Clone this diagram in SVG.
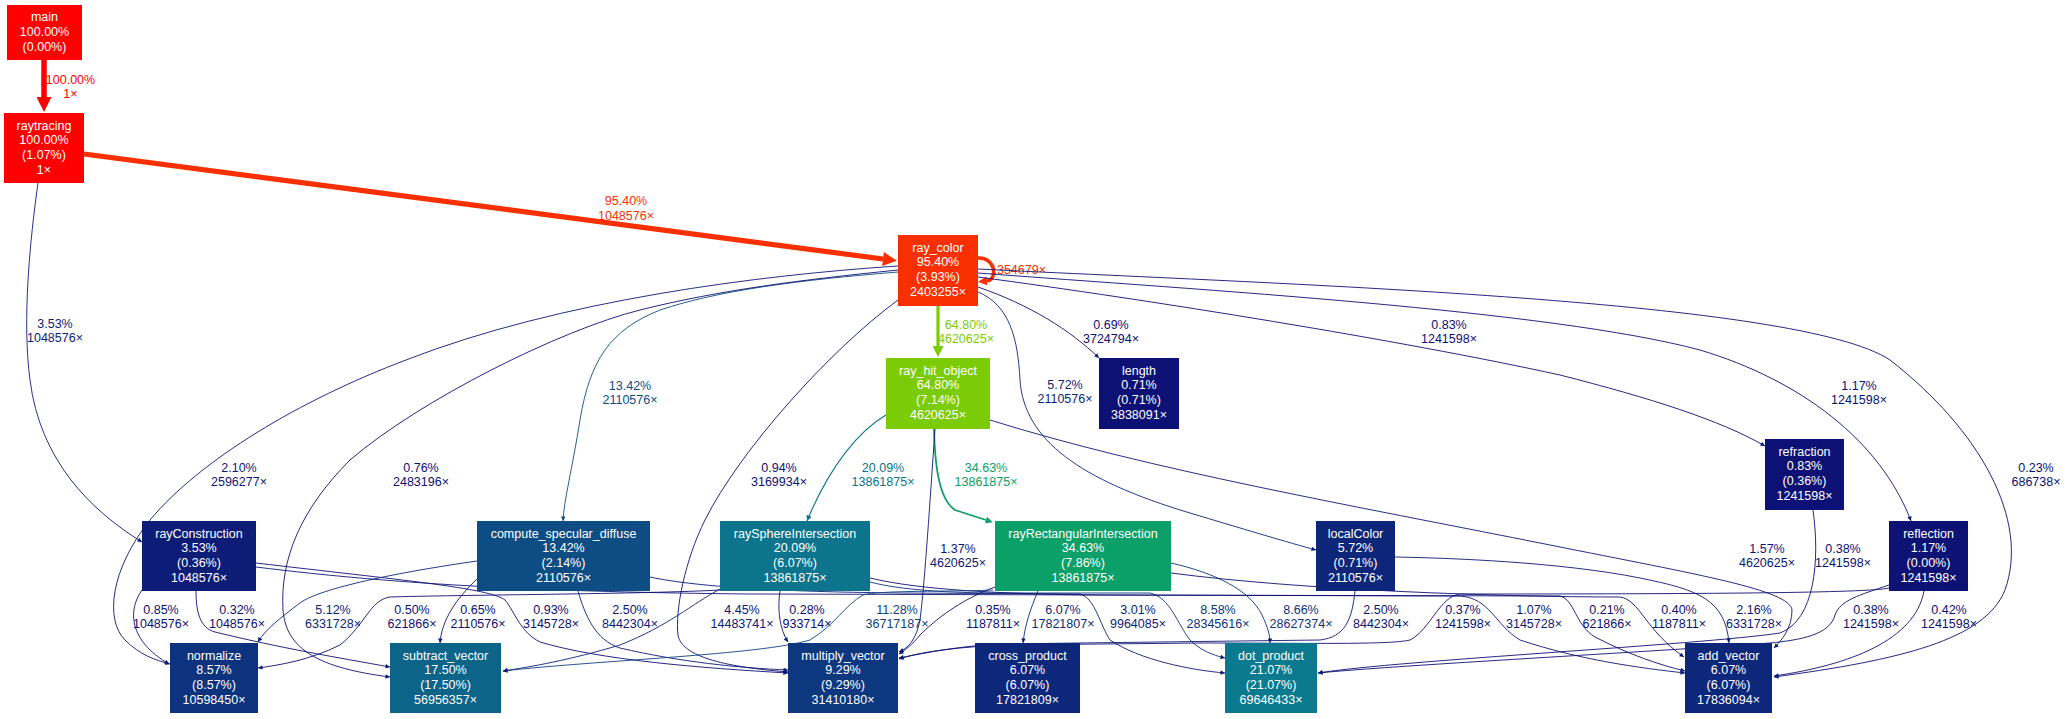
<svg xmlns="http://www.w3.org/2000/svg" width="2067" height="719" viewBox="0 0 2067 719">
<style>
text{font-family:"Liberation Sans",Arial,sans-serif;font-size:12.5px;text-anchor:middle}
.nt{fill:#ffffff}
.e{fill:none;stroke-width:0.9}
.c1{stroke:#0d1074}.t1{fill:#0d1074}
.c2{stroke:#0d1776}.t2{fill:#0d1776}
.c3{stroke:#0d1c77}.t3{fill:#0d1c77}
.c4{stroke:#0d2078}.t4{fill:#0d2078}
.c5{stroke:#0d267a}.t5{fill:#0d267a}
.c6{stroke:#0d277b}.t6{fill:#0d277b}
.c8{stroke:#0d337e}.t8{fill:#0d337e}
.c11{stroke:#0d4181}.t11{fill:#0d4181}
.c13{stroke:#0d4d84}.t13{fill:#0d4d84}
.sm{marker-end:url(#mN)}
</style>
<defs>
<marker id="mRed" viewBox="0 0 10 10" refX="0" refY="5" markerWidth="16" markerHeight="15" markerUnits="userSpaceOnUse" orient="auto"><path d="M0,0 L10,5 L0,10 z" fill="#ff0000"/></marker>
<marker id="mOr" viewBox="0 0 10 10" refX="0" refY="5" markerWidth="15" markerHeight="14" markerUnits="userSpaceOnUse" orient="auto"><path d="M0,0 L10,5 L0,10 z" fill="#f82f01"/></marker>
<marker id="mOrL" viewBox="0 0 10 10" refX="0" refY="5" markerWidth="9" markerHeight="9" markerUnits="userSpaceOnUse" orient="auto"><path d="M0,0 L10,5 L0,10 z" fill="#f82f01"/></marker>
<marker id="mGr" viewBox="0 0 10 10" refX="0" refY="5" markerWidth="12" markerHeight="11" markerUnits="userSpaceOnUse" orient="auto"><path d="M0,0 L10,5 L0,10 z" fill="#7bcb07"/></marker>
<marker id="mG34" viewBox="0 0 10 10" refX="0" refY="5" markerWidth="9" markerHeight="7" markerUnits="userSpaceOnUse" orient="auto"><path d="M0,0 L10,5 L0,10 z" fill="#0ba067"/></marker>
<marker id="mT20" viewBox="0 0 10 10" refX="10" refY="5" markerWidth="7" markerHeight="5.5" markerUnits="userSpaceOnUse" orient="auto"><path d="M0,0 L10,5 L0,10 z" fill="#0c748d"/></marker>
<marker id="mB13" viewBox="0 0 10 10" refX="10" refY="5" markerWidth="6" markerHeight="4.5" markerUnits="userSpaceOnUse" orient="auto"><path d="M0,0 L10,5 L0,10 z" fill="#0d4d84"/></marker>
<marker id="mN" viewBox="0 0 10 10" refX="10" refY="5" markerWidth="6" markerHeight="4.5" markerUnits="userSpaceOnUse" orient="auto"><path d="M0,0 L10,5 L0,10 z" fill="#0d1a76"/></marker>
</defs>
<rect width="2067" height="719" fill="#ffffff"/>

<g id="edges">
<g><path d="M44,60 L44,97" fill="none" stroke="#ff0000" stroke-width="5.5" marker-end="url(#mRed)"/>
<text fill="#ff0000" x="70.5" y="83.5">100.00%<tspan x="70.5" dy="14.6">1×</tspan></text></g>
<g><path d="M84,154 L883,259" fill="none" stroke="#f82f01" stroke-width="5.2" marker-end="url(#mOr)"/>
<text fill="#f82f01" x="626" y="205">95.40%<tspan x="626" dy="14.6">1048576×</tspan></text></g>
<g><path class="e c3 sm" d="M38,183 C30,240 22,320 30,380 C40,460 90,510 142,542"/>
<text class="t3" x="55" y="327.5">3.53%<tspan x="55" dy="14.6">1048576×</tspan></text></g>
<g><path d="M978,258 C996,257 998,280 987,281" fill="none" stroke="#f82f01" stroke-width="3.5" marker-end="url(#mOrL)"/>
<text fill="#f82f01" x="1018" y="273.5">1354679×</text></g>
<g><path d="M938,306 L938,346" fill="none" stroke="#7bcb07" stroke-width="3.2" marker-end="url(#mGr)"/>
<text fill="#7bcb07" x="966" y="328.5">64.80%<tspan x="966" dy="14.6">4620625×</tspan></text></g>
<g><path class="e c1 sm" d="M978,287 C1030,305 1070,330 1099,358"/>
<text class="t1" x="1111" y="328.5">0.69%<tspan x="1111" dy="14.6">3724794×</tspan></text></g>
<g><path class="e c5 sm" d="M978,292 C1010,305 1018,340 1020,380 C1024,440 1080,480 1190,513 C1240,528 1290,543 1316,550"/>
<text class="t5" x="1065" y="388.5">5.72%<tspan x="1065" dy="14.6">2110576×</tspan></text></g>
<g><path class="e c1 sm" d="M978,277 C1150,300 1400,340 1560,375 C1650,398 1720,420 1765,446"/>
<text class="t1" x="1449" y="328.5">0.83%<tspan x="1449" dy="14.6">1241598×</tspan></text></g>
<g><path class="e c1 sm" d="M978,273 C1200,290 1550,310 1700,350 C1800,380 1880,440 1911,521"/>
<text class="t1" x="1859" y="389.5">1.17%<tspan x="1859" dy="14.6">1241598×</tspan></text></g>
<g><path class="e c1 sm" d="M978,269 C1300,285 1800,300 1890,360 C1980,430 2030,520 2005,590 C1985,640 1900,660 1774,677"/>
<text class="t1" x="2036" y="471.5">0.23%<tspan x="2036" dy="14.6">686738×</tspan></text></g>
<g><path class="e c13" marker-end="url(#mB13)" d="M898,272 C800,280 720,290 660,310 C610,330 590,360 580,420 C572,470 564,500 563,521"/>
<text class="t13" x="630" y="389.5">13.42%<tspan x="630" dy="14.6">2110576×</tspan></text></g>
<g><path class="e c2 sm" d="M898,266 C760,275 560,300 406,360 C300,400 200,460 150,520 C110,570 105,620 125,640 C140,655 155,660 170,664"/>
<text class="t2" x="239" y="471.5">2.10%<tspan x="239" dy="14.6">2596277×</tspan></text></g>
<g><path class="e c1 sm" d="M898,270 C800,280 720,290 640,310 C560,330 420,400 350,460 C300,510 280,560 283,610 C286,650 320,668 390,677"/>
<text class="t1" x="421" y="471.5">0.76%<tspan x="421" dy="14.6">2483196×</tspan></text></g>
<g><path class="e c1 sm" d="M898,300 C830,350 740,450 705,520 C685,560 675,610 678,635 C682,660 740,668 788,672"/>
<text class="t1" x="779" y="471.5">0.94%<tspan x="779" dy="14.6">3169934×</tspan></text></g>
<g><path d="M886,415 C860,430 830,465 807,521" fill="none" stroke="#0c748d" stroke-width="1.1" marker-end="url(#mT20)"/>
<text fill="#0c748d" x="883" y="471.5">20.09%<tspan x="883" dy="14.6">13861875×</tspan></text></g>
<g><path d="M934,429 C935,470 940,500 955,510 L986,520" fill="none" stroke="#0ba067" stroke-width="1.8" marker-end="url(#mG34)"/>
<text fill="#0ba067" x="986" y="471.5">34.63%<tspan x="986" dy="14.6">13861875×</tspan></text></g>
<g><path class="e c2 sm" d="M935,429 C930,500 925,580 920,620 C916,640 908,648 899,652"/>
<text class="t2" x="958" y="552.5">1.37%<tspan x="958" dy="14.6">4620625×</tspan></text></g>
<g><path class="e c2 sm" d="M990,420 C1150,470 1350,505 1550,545 C1700,575 1790,590 1792,610 C1792,628 1782,640 1774,648"/>
<text class="t2" x="1767" y="552.5">1.57%<tspan x="1767" dy="14.6">4620625×</tspan></text></g>
<g><path class="e c1 sm" d="M1813,510 C1820,560 1815,620 1780,633 C1700,645 1400,660 1318,673"/>
<text class="t1" x="1843" y="552.5">0.38%<tspan x="1843" dy="14.6">1241598×</tspan></text></g>
<g><path class="e c1 sm" d="M142,590 C128,610 128,640 169,664"/>
<text class="t1" x="161" y="613.5">0.85%<tspan x="161" dy="14.6">1048576×</tspan></text></g>
<g><path class="e c1 sm" d="M196,591 C196,612 200,628 215,632 C280,648 340,658 390,667"/>
<text class="t1" x="237" y="613.5">0.32%<tspan x="237" dy="14.6">1048576×</tspan></text></g>
<g><path class="e c1 sm" d="M256,563 C400,580 490,588 505,600 C515,612 520,632 540,642 C600,660 700,668 788,673"/>
<text class="t1" x="551" y="613.5">0.93%<tspan x="551" dy="14.6">3145728×</tspan></text></g>
<g><path class="e c2 sm" d="M256,567 C400,585 550,592 750,594 L1460,596 C1490,598 1495,625 1520,640 C1580,660 1640,668 1685,673"/>
<text class="t2" x="1534" y="613.5">1.07%<tspan x="1534" dy="14.6">3145728×</tspan></text></g>
<g><path class="e c5 sm" d="M477,561 C400,572 320,588 300,603 C280,618 265,630 258,642"/>
<text class="t5" x="333" y="613.5">5.12%<tspan x="333" dy="14.6">6331728×</tspan></text></g>
<g><path class="e c1 sm" d="M478,578 C455,600 442,620 440,643"/>
<text class="t1" x="478" y="613.5">0.65%<tspan x="478" dy="14.6">2110576×</tspan></text></g>
<g><path class="e c2 sm" d="M578,591 C585,615 595,640 620,648 C680,662 740,668 788,670"/>
<text class="t2" x="630" y="613.5">2.50%<tspan x="630" dy="14.6">8442304×</tspan></text></g>
<g><path class="e c3 sm" d="M650,577 C700,588 800,592 900,593 L1080,594 C1095,598 1100,625 1110,640 C1140,660 1190,670 1225,673"/>
<text class="t3" x="1138" y="613.5">3.01%<tspan x="1138" dy="14.6">9964085×</tspan></text></g>
<g><path class="e c4 sm" d="M722,588 C690,605 670,625 620,645 C570,660 530,667 503,671"/>
<text class="t4" x="742" y="613.5">4.45%<tspan x="742" dy="14.6">14483741×</tspan></text></g>
<g><path class="e c1 sm" d="M720,590 C650,594 450,595 390,597 C370,600 365,625 340,645 C310,660 280,665 258,668"/>
<text class="t1" x="412" y="613.5">0.50%<tspan x="412" dy="14.6">621866×</tspan></text></g>
<g><path class="e c1 sm" d="M780,591 C777,610 780,630 788,642"/>
<text class="t1" x="807" y="613.5">0.28%<tspan x="807" dy="14.6">933714×</tspan></text></g>
<g><path class="e c8 sm" d="M870,582 C900,590 950,593 1000,593 L1150,593 C1170,597 1178,625 1190,640 C1200,650 1212,655 1225,658"/>
<text class="t8" x="1218" y="613.5">8.58%<tspan x="1218" dy="14.6">28345616×</tspan></text></g>
<g><path class="e c1 sm" d="M870,578 C920,590 1000,594 1100,595 L1560,596 C1575,600 1575,625 1595,637 C1630,655 1660,665 1685,671"/>
<text class="t1" x="1607" y="613.5">0.21%<tspan x="1607" dy="14.6">621866×</tspan></text></g>
<g><path class="e c11 sm" d="M993,590 C950,592 880,590 863,595 C845,605 835,625 810,640 C760,655 600,660 503,671"/>
<text class="t11" x="897" y="613.5">11.28%<tspan x="897" dy="14.6">36717187×</tspan></text></g>
<g><path class="e c1 sm" d="M995,587 C960,600 935,620 920,635 C912,645 905,650 899,654"/>
<text class="t1" x="993" y="613.5">0.35%<tspan x="993" dy="14.6">1187811×</tspan></text></g>
<g><path class="e c6 sm" d="M1038,591 C1030,610 1025,625 1023,643"/>
<text class="t6" x="1063" y="613.5">6.07%<tspan x="1063" dy="14.6">17821807×</tspan></text></g>
<g><path class="e c8 sm" d="M1171,563 C1215,573 1250,590 1262,615 C1268,628 1270,635 1270,643"/>
<text class="t8" x="1301" y="613.5">8.66%<tspan x="1301" dy="14.6">28627374×</tspan></text></g>
<g><path class="e c1 sm" d="M1171,573 C1300,590 1500,597 1620,597 C1640,600 1645,630 1684,657"/>
<text class="t1" x="1679" y="613.5">0.40%<tspan x="1679" dy="14.6">1187811×</tspan></text></g>
<g><path class="e c2 sm" d="M1355,591 C1352,620 1345,637 1320,640 L1000,644 C960,646 930,652 899,658"/>
<text class="t2" x="1381" y="613.5">2.50%<tspan x="1381" dy="14.6">8442304×</tspan></text></g>
<g><path class="e c2 sm" d="M1395,557 C1450,558 1560,562 1640,578 C1700,590 1725,600 1729,643"/>
<text class="t2" x="1754" y="613.5">2.16%<tspan x="1754" dy="14.6">6331728×</tspan></text></g>
<g><path class="e c1 sm" d="M1889,588 C1870,593 1700,594 1460,594 C1440,596 1430,630 1410,640 C1390,645 1300,643 1200,643 L1000,645 C950,648 920,652 899,659"/>
<text class="t1" x="1463" y="613.5">0.37%<tspan x="1463" dy="14.6">1241598×</tspan></text></g>
<g><path class="e c1 sm" d="M1889,585 C1860,595 1840,600 1835,615 C1830,635 1800,640 1770,643 C1650,652 1400,665 1318,673"/>
<text class="t1" x="1871" y="613.5">0.38%<tspan x="1871" dy="14.6">1241598×</tspan></text></g>
<g><path class="e c1 sm" d="M1924,591 C1915,640 1850,665 1774,676"/>
<text class="t1" x="1949" y="613.5">0.42%<tspan x="1949" dy="14.6">1241598×</tspan></text></g>
</g>

<g id="main"><rect x="7" y="5" width="75" height="55" fill="#ff0000"/>
<text class="nt" x="44.5" y="21.2">main<tspan x="44.5" dy="15">100.00%</tspan><tspan x="44.5" dy="15">(0.00%)</tspan></text></g>
<g id="raytracing"><rect x="4" y="113" width="80" height="70" fill="#ff0000"/>
<text class="nt" x="44" y="129.8">raytracing<tspan x="44" dy="14.6">100.00%</tspan><tspan x="44" dy="14.6">(1.07%)</tspan><tspan x="44" dy="14.6">1×</tspan></text></g>
<g id="ray_color"><rect x="898" y="235" width="80" height="71" fill="#f82f01"/>
<text class="nt" x="938" y="251.8">ray_color<tspan x="938" dy="14.6">95.40%</tspan><tspan x="938" dy="14.6">(3.93%)</tspan><tspan x="938" dy="14.6">2403255×</tspan></text></g>
<g id="ray_hit_object"><rect x="886" y="358" width="104" height="71" fill="#7bcb07"/>
<text class="nt" x="938" y="374.8">ray_hit_object<tspan x="938" dy="14.6">64.80%</tspan><tspan x="938" dy="14.6">(7.14%)</tspan><tspan x="938" dy="14.6">4620625×</tspan></text></g>
<g id="length"><rect x="1099" y="358" width="80" height="71" fill="#0d1074"/>
<text class="nt" x="1139" y="374.8">length<tspan x="1139" dy="14.6">0.71%</tspan><tspan x="1139" dy="14.6">(0.71%)</tspan><tspan x="1139" dy="14.6">3838091×</tspan></text></g>
<g id="rayConstruction"><rect x="142" y="521" width="114" height="70" fill="#0d1c77"/>
<text class="nt" x="199" y="537.8">rayConstruction<tspan x="199" dy="14.6">3.53%</tspan><tspan x="199" dy="14.6">(0.36%)</tspan><tspan x="199" dy="14.6">1048576×</tspan></text></g>
<g id="compute_specular_diffuse"><rect x="477" y="521" width="173" height="70" fill="#0d4d84"/>
<text class="nt" x="563.5" y="537.8">compute_specular_diffuse<tspan x="563.5" dy="14.6">13.42%</tspan><tspan x="563.5" dy="14.6">(2.14%)</tspan><tspan x="563.5" dy="14.6">2110576×</tspan></text></g>
<g id="raySphereIntersection"><rect x="720" y="521" width="150" height="70" fill="#0c748d"/>
<text class="nt" x="795" y="537.8">raySphereIntersection<tspan x="795" dy="14.6">20.09%</tspan><tspan x="795" dy="14.6">(6.07%)</tspan><tspan x="795" dy="14.6">13861875×</tspan></text></g>
<g id="rayRectangularIntersection"><rect x="995" y="521" width="176" height="70" fill="#0ba067"/>
<text class="nt" x="1083" y="537.8">rayRectangularIntersection<tspan x="1083" dy="14.6">34.63%</tspan><tspan x="1083" dy="14.6">(7.86%)</tspan><tspan x="1083" dy="14.6">13861875×</tspan></text></g>
<g id="localColor"><rect x="1316" y="521" width="79" height="70" fill="#0d267a"/>
<text class="nt" x="1355.5" y="537.8">localColor<tspan x="1355.5" dy="14.6">5.72%</tspan><tspan x="1355.5" dy="14.6">(0.71%)</tspan><tspan x="1355.5" dy="14.6">2110576×</tspan></text></g>
<g id="refraction"><rect x="1765" y="439" width="79" height="71" fill="#0d1074"/>
<text class="nt" x="1804.5" y="455.8">refraction<tspan x="1804.5" dy="14.6">0.83%</tspan><tspan x="1804.5" dy="14.6">(0.36%)</tspan><tspan x="1804.5" dy="14.6">1241598×</tspan></text></g>
<g id="reflection"><rect x="1889" y="521" width="79" height="70" fill="#0d1274"/>
<text class="nt" x="1928.5" y="537.8">reflection<tspan x="1928.5" dy="14.6">1.17%</tspan><tspan x="1928.5" dy="14.6">(0.00%)</tspan><tspan x="1928.5" dy="14.6">1241598×</tspan></text></g>
<g id="normalize"><rect x="170" y="643" width="88" height="70" fill="#0d337e"/>
<text class="nt" x="214" y="659.8">normalize<tspan x="214" dy="14.6">8.57%</tspan><tspan x="214" dy="14.6">(8.57%)</tspan><tspan x="214" dy="14.6">10598450×</tspan></text></g>
<g id="subtract_vector"><rect x="390" y="643" width="111" height="70" fill="#0c6489"/>
<text class="nt" x="445.5" y="659.8">subtract_vector<tspan x="445.5" dy="14.6">17.50%</tspan><tspan x="445.5" dy="14.6">(17.50%)</tspan><tspan x="445.5" dy="14.6">56956357×</tspan></text></g>
<g id="multiply_vector"><rect x="788" y="643" width="110" height="70" fill="#0d377f"/>
<text class="nt" x="843" y="659.8">multiply_vector<tspan x="843" dy="14.6">9.29%</tspan><tspan x="843" dy="14.6">(9.29%)</tspan><tspan x="843" dy="14.6">31410180×</tspan></text></g>
<g id="cross_product"><rect x="975" y="643" width="105" height="70" fill="#0d277b"/>
<text class="nt" x="1027.5" y="659.8">cross_product<tspan x="1027.5" dy="14.6">6.07%</tspan><tspan x="1027.5" dy="14.6">(6.07%)</tspan><tspan x="1027.5" dy="14.6">17821809×</tspan></text></g>
<g id="dot_product"><rect x="1225" y="643" width="92" height="70" fill="#0c7a8e"/>
<text class="nt" x="1271" y="659.8">dot_product<tspan x="1271" dy="14.6">21.07%</tspan><tspan x="1271" dy="14.6">(21.07%)</tspan><tspan x="1271" dy="14.6">69646433×</tspan></text></g>
<g id="add_vector"><rect x="1685" y="643" width="87" height="70" fill="#0d277b"/>
<text class="nt" x="1728.5" y="659.8">add_vector<tspan x="1728.5" dy="14.6">6.07%</tspan><tspan x="1728.5" dy="14.6">(6.07%)</tspan><tspan x="1728.5" dy="14.6">17836094×</tspan></text></g>
</svg>
